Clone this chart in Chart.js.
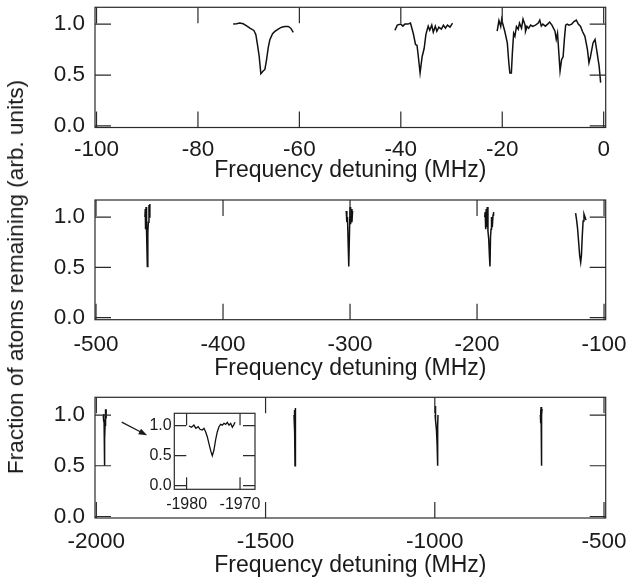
<!DOCTYPE html>
<html><head><meta charset="utf-8">
<script src="https://cdn.jsdelivr.net/npm/chart.js@4.4.0/dist/chart.umd.min.js"></script>
<style>
html,body{margin:0;padding:0;background:#fff;}
#wrap{position:relative;width:639px;height:587px;overflow:hidden;font-family:"Liberation Sans",Arial,sans-serif;}
canvas{position:absolute;}
#ytitle{position:absolute;left:16px;top:277px;transform:translate(-50%,-50%) rotate(-90deg);white-space:nowrap;font-size:22.6px;color:#1a1a1a;}
</style></head>
<body><div id="wrap">
<canvas id="c1" width="639" height="190" style="left:0;top:0;width:639px;height:190px"></canvas>
<canvas id="c2" width="639" height="200" style="left:0;top:190px;width:639px;height:200px"></canvas>
<canvas id="c3" width="639" height="197" style="left:0;top:390px;width:639px;height:197px"></canvas>
<canvas id="c4" width="150" height="115" style="left:115px;top:400px;width:150px;height:115px"></canvas>
<div id="ytitle">Fraction of atoms remaining (arb. units)</div>
</div>
<script>
// ---------- data (frequency detuning in MHz, fraction remaining) ----------
// Panel 1 (-100 .. 0 MHz)
const p1aF = [-73.06,-72.4,-71.74,-71.08,-70.4,-69.76,-68.97,-68.58,-68.32,-67.93,-67.6,-67.14,-66.8,-66.47,-66.15,-65.82,-65.29,-64.83,-64.18,-63.5,-62.86,-62.2,-61.7,-61.2];
const p1aV = [1.00,1.003,1.01,1.003,0.983,0.96,0.938,0.896,0.815,0.685,0.513,0.54,0.555,0.652,0.766,0.847,0.906,0.928,0.951,0.97,0.977,0.977,0.96,0.918];
const p1bF = [-41.16,-40.7,-40.0,-39.6,-39.2,-38.6,-38.1,-37.55,-37.1,-36.8,-36.5,-36.2,-35.8,-35.4,-35.05,-34.6,-34.3,-33.9,-33.6,-33.2,-32.9,-32.5,-32.0,-31.6,-31.2,-30.8,-30.3,-29.8];
const p1bV = [0.94,0.99,1.00,0.98,1.00,1.00,1.01,0.91,0.80,0.79,0.66,0.52,0.68,0.76,0.90,0.98,0.94,0.99,0.92,0.98,0.93,0.97,0.95,0.99,0.96,0.99,0.97,1.01];
const p1cF = [-21.0,-20.65,-20.3,-20.1,-19.85,-19.5,-19.0,-18.7,-18.5,-18.2,-18.0,-17.75,-17.5,-17.2,-16.85,-16.6,-16.2,-15.9,-15.5,-15.4,-15.1,-14.8,-14.4,-14.0,-13.45,-12.9,-12.6,-12.3,-12.0,-11.5,-11.05,-10.65,-10.2,-9.6,-9.35,-9.1,-8.6,-8.3,-8.0,-7.75,-7.5,-7.2,-6.85,-6.3,-5.85,-5.4,-5.0,-4.55,-4.2,-3.7,-3.2,-2.9,-2.6,-2.1,-1.7,-1.3,-0.9,-0.6];
const p1cV = [0.93,1.035,0.977,1.049,0.993,0.93,0.815,0.62,0.52,0.52,0.72,0.91,0.88,0.977,0.95,1.01,0.96,1.05,0.99,0.93,0.977,0.96,0.99,0.977,0.99,1.01,1.04,0.98,1.0,0.98,1.0,1.02,0.99,0.93,0.85,0.91,0.54,0.65,0.68,0.85,0.99,1.0,0.99,1.0,1.025,1.04,1.0,0.977,0.93,0.88,0.75,0.62,0.68,0.815,0.85,0.72,0.59,0.425];
// Panel 2 (-500 .. -100 MHz)
const p2aF = [-461.5,-461.2,-461.0,-460.6,-460.2,-459.6,-459.2,-458.8,-458.3,-458.0,-457.6];
const p2aV = [1.0,1.08,0.88,1.1,0.85,0.51,0.85,0.95,1.12,1.0,1.13];
const p2bF = [-303.0,-302.5,-302.0,-301.5,-301.0,-300.5,-300.0,-299.5,-299.0,-298.5,-298.0];
const p2bV = [1.06,0.95,1.0,0.75,0.51,0.8,1.1,0.93,1.08,0.95,1.06];
const p2cF = [-194.0,-193.6,-193.2,-192.8,-192.4,-192.0,-191.4,-190.8,-190.2,-189.8,-189.4,-189.0,-188.6,-188.0,-187.4,-187.0];
const p2cV = [1.0,1.05,0.88,1.08,0.9,1.1,0.86,0.78,0.6,0.51,0.8,0.88,1.0,0.9,1.02,1.05];
const p2dF = [-122.4,-121.6,-120.8,-120.0,-119.2,-118.4,-117.8,-117.2,-116.5,-115.8,-115.0,-114.2];
const p2dV = [1.04,0.97,0.88,0.75,0.62,0.55,0.62,0.8,0.96,1.03,1.0,0.97];
// Inset / panel 3 line near -1975 MHz
const insetF = [-1979.57,-1979.07,-1978.63,-1978.26,-1977.82,-1977.5,-1977.07,-1976.75,-1976.44,-1976.13,-1975.75,-1975.44,-1975.19,-1974.88,-1974.57,-1974.25,-1973.94,-1973.63,-1973.32,-1973.0,-1972.69,-1972.38,-1972.06,-1971.75,-1971.44,-1971.13,-1970.94];
const insetV = [0.995,0.973,1.01,0.956,0.983,0.94,0.928,0.956,0.9,0.817,0.678,0.567,0.5,0.595,0.762,0.9,0.983,1.023,1.01,1.04,1.023,1.057,1.01,1.04,0.973,1.023,1.057];
// Panel 3 (-2000 .. -500 MHz)
const p3bF = [-1416,-1415,-1414.5,-1413.5,-1413,-1412.5,-1412,-1411.5,-1411];
const p3bV = [1.0,0.85,1.05,0.9,0.5,0.85,1.07,0.95,1.05];
const p3cF = [-999,-998.5,-998,-997,-995,-993,-992,-991,-990.5];
const p3cV = [1.0,1.09,1.0,0.95,0.85,0.7,0.5,0.9,1.0];
const p3dF = [-688,-687.5,-687,-686.5,-686,-685.5,-685,-684.5,-684,-683.5,-683];
const p3dV = [1.0,0.92,1.05,0.95,1.08,0.9,0.7,0.5,0.8,1.0,1.06];
// tick labels
const yTicks = [0, 0.5, 1.0];
const x1Ticks = [-100, -80, -60, -40, -20, 0];
const x2Ticks = [-500, -400, -300, -200, -100];
const x3Ticks = [-2000, -1500, -1000, -500];
const insetXTicks = [-1980, -1970];
const xTitle = 'Frequency detuning (MHz)';
const arrowFrom = [-1925, 0.93];
const arrowTo = [-1850, 0.80];

// ---------- drawing ----------
const FONT = '"Liberation Sans", Arial, sans-serif';
const INK = '#1a1a1a';
const pts = (f, v) => f.map((x, i) => ({x, y: v[i]}));

const frameTicks = {
  id: 'frameTicks',
  afterDatasetsDraw(chart, args, o) {
    const {ctx, chartArea: a} = chart;
    const sx = chart.scales.x, sy = chart.scales.y;
    ctx.save();
    ctx.strokeStyle = '#2a2a2a';
    ctx.lineWidth = o.width;
    ctx.beginPath();
    sx.ticks.forEach(t => {
      const p = sx.getPixelForValue(t.value);
      ctx.moveTo(p, a.bottom); ctx.lineTo(p, a.bottom - o.len);
      ctx.moveTo(p, a.top); ctx.lineTo(p, a.top + o.len);
    });
    sy.ticks.forEach(t => {
      const p = sy.getPixelForValue(t.value);
      ctx.moveTo(a.left, p); ctx.lineTo(a.left + o.len, p);
      ctx.moveTo(a.right, p); ctx.lineTo(a.right - o.len, p);
    });
    ctx.stroke();
    ctx.strokeRect(a.left, a.top, a.right - a.left, a.bottom - a.top);
    if (o.arrow) {
      const x0 = sx.getPixelForValue(o.arrow[0][0]), y0 = sy.getPixelForValue(o.arrow[0][1]);
      const x1 = sx.getPixelForValue(o.arrow[1][0]), y1 = sy.getPixelForValue(o.arrow[1][1]);
      const ang = Math.atan2(y1 - y0, x1 - x0), h = 9;
      ctx.strokeStyle = INK; ctx.fillStyle = INK; ctx.lineWidth = 1.3;
      ctx.beginPath(); ctx.moveTo(x0, y0);
      ctx.lineTo(x1 - h * 0.8 * Math.cos(ang), y1 - h * 0.8 * Math.sin(ang)); ctx.stroke();
      ctx.beginPath(); ctx.moveTo(x1, y1);
      ctx.lineTo(x1 - h * Math.cos(ang - 0.35), y1 - h * Math.sin(ang - 0.35));
      ctx.lineTo(x1 - h * Math.cos(ang + 0.35), y1 - h * Math.sin(ang + 0.35));
      ctx.closePath(); ctx.fill();
    }
    ctx.restore();
  }
};

function makeChart(id, c) {
  const ds = c.series.map(s => ({
    data: pts(s[0], s[1]), borderColor: '#111', borderWidth: c.lw, pointRadius: 0,
    tension: 0, fill: false, spanGaps: false
  }));
  return new Chart(document.getElementById(id), {
    type: 'line',
    data: {datasets: ds},
    plugins: [frameTicks],
    options: {
      responsive: false, animation: false, devicePixelRatio: 1,
      layout: {padding: {left: 0, top: c.padTop, right: c.padRight, bottom: 0}},
      plugins: {legend: {display: false}, tooltip: {enabled: false},
        frameTicks: {len: c.len, width: 1.2, arrow: c.arrow}},
      scales: {
        x: {
          type: 'linear', min: c.xmin, max: c.xmax,
          grid: {display: false, drawTicks: false}, border: {display: false},
          afterBuildTicks: s => { s.ticks = c.xticks.map(v => ({value: v})); },
          afterFit: s => { s.height = c.xH; s.paddingLeft = 0; s.paddingRight = 0; s.paddingTop = 0; s.paddingBottom = 0; },
          ticks: {padding: c.xPad, maxRotation: 0, autoSkip: false, color: INK,
            font: {family: FONT, size: c.fs}, callback: v => String(v)},
          title: {display: !!c.title, text: c.title || '', color: INK,
            font: {family: FONT, size: 23, lineHeight: 1.2}, padding: {top: 0, bottom: c.titlePad}}
        },
        y: {
          type: 'linear', min: c.ymin, max: c.ymax,
          grid: {display: false, drawTicks: false}, border: {display: false},
          afterBuildTicks: s => { s.ticks = yTicks.map(v => ({value: v})); },
          afterFit: s => { s.width = c.yW; s.paddingTop = 0; s.paddingBottom = 0; s.paddingLeft = 0; s.paddingRight = 0; },
          ticks: {padding: c.yPad, color: INK, font: {family: FONT, size: c.fs},
            callback: v => Number(v).toFixed(1)}
        }
      }
    }
  });
}

makeChart('c1', {series: [[p1aF, p1aV], [p1bF, p1bV], [p1cF, p1cV]],
  xmin: -100.3, xmax: 0.4, ymin: -0.015, ymax: 1.165, xticks: x1Ticks,
  padTop: 7.3, padRight: 33.3, yW: 95, xH: 62.5, xPad: 9, yPad: 10, fs: 22.5,
  title: xTitle, titlePad: 5.4, len: 16, lw: 1.5});
makeChart('c2', {series: [[p2aF, p2aV], [p2bF, p2bV], [p2cF, p2cV], [p2dF, p2dV]],
  xmin: -500.8, xmax: -98.7, ymin: -0.02, ymax: 1.17, xticks: x2Ticks,
  padTop: 10, padRight: 33.3, yW: 95, xH: 70.3, xPad: 11.5, yPad: 10, fs: 22.5,
  title: xTitle, titlePad: 7.5, len: 16, lw: 1.5});
makeChart('c3', {series: [[insetF, insetV], [p3bF, p3bV], [p3cF, p3cV], [p3dF, p3dV]],
  xmin: -2004, xmax: -495, ymin: -0.015, ymax: 1.175, xticks: x3Ticks,
  padTop: 7.3, padRight: 33.3, yW: 95, xH: 69, xPad: 10, yPad: 10, fs: 22.5,
  title: xTitle, titlePad: 7.5, len: 16, lw: 1.5, arrow: [arrowFrom, arrowTo]});
makeChart('c4', {series: [[insetF, insetV]],
  xmin: -1982.3, xmax: -1967.2, ymin: -0.06, ymax: 1.207, xticks: insetXTicks,
  padTop: 13.3, padRight: 10, yW: 59.3, xH: 25.7, xPad: 6, yPad: 2.6, fs: 16,
  title: '', titlePad: 0, len: 12, lw: 1.3});
</script>
</body></html>
